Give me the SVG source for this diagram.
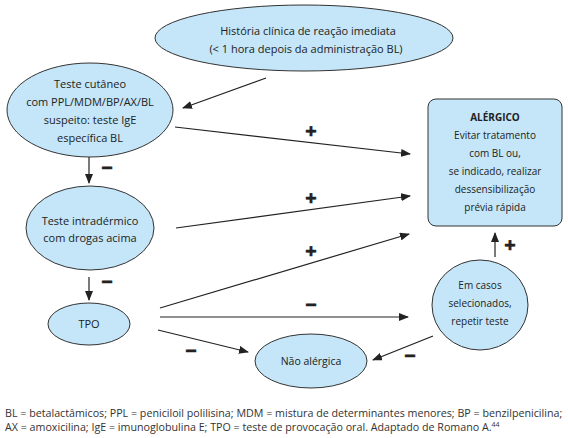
<svg xmlns="http://www.w3.org/2000/svg" width="568" height="438" viewBox="0 0 568 438">
<defs>
<marker id="ah" markerWidth="10" markerHeight="8" refX="9" refY="4" orient="auto" markerUnits="userSpaceOnUse">
<path d="M0,0 L10,4 L0,8 Z" fill="#222"/>
</marker>
<style>
.n{fill:#c4e6f8;stroke:#333;stroke-width:1}
.t{font-family:"Open Sans","Noto Sans",sans-serif;font-size:11px;fill:#222;text-anchor:middle}
.r{font-size:10px}
.m{font-size:10.5px}
.b{font-weight:bold}
.c line{stroke:#222;stroke-width:1.2;marker-end:url(#ah)}
.s{font-family:"Open Sans","Noto Sans",sans-serif;font-size:20px;font-weight:bold;fill:#222;stroke:#222;stroke-width:0.6;text-anchor:middle}
.f{font-family:"Open Sans","Noto Sans",sans-serif;font-size:10.7px;fill:#333}
</style>
</defs>
<rect width="568" height="438" fill="#fff"/>
<g class="c">
<line x1="266" y1="78" x2="183" y2="108"/>
<line x1="89" y1="157" x2="89" y2="183"/>
<line x1="175" y1="127" x2="410" y2="154"/>
<line x1="176" y1="228" x2="410" y2="196"/>
<line x1="89" y1="277" x2="89" y2="300"/>
<line x1="160" y1="308" x2="409" y2="234"/>
<line x1="160" y1="317" x2="408" y2="317"/>
<line x1="158" y1="330" x2="248" y2="352"/>
<line x1="433" y1="336" x2="373" y2="360"/>
<line x1="495" y1="257" x2="495" y2="233"/>
</g>
<g id="labels">
<text class="s" x="107" y="175">−</text>
<text class="s" x="311" y="138">+</text>
<text class="s" x="311" y="205">+</text>
<text class="s" x="107" y="289">−</text>
<text class="s" x="311" y="258">+</text>
<text class="s" x="311" y="312">−</text>
<text class="s" x="191" y="358">−</text>
<text class="s" x="410" y="363">−</text>
<text class="s" x="510" y="252">+</text>
</g>
<g id="historia">
<ellipse class="n" cx="304" cy="38" rx="149" ry="33"/>
<text class="t" x="308" y="35">História clínica de reação imediata</text>
<text class="t" x="306" y="53">(&lt; 1 hora depois da administração BL)</text>
</g>
<g id="cutaneo">
<ellipse class="n" cx="90" cy="110" rx="83" ry="47"/>
<text class="t" x="90" y="88">Teste cutâneo</text>
<text class="t" x="90" y="106">com PPL/MDM/BP/AX/BL</text>
<text class="t" x="90" y="124">suspeito: teste IgE</text>
<text class="t" x="90" y="142">específica BL</text>
</g>
<g id="intradermico">
<ellipse class="n" cx="90" cy="228" rx="64" ry="42"/>
<text class="t" x="90" y="225">Teste intradérmico</text>
<text class="t" x="90" y="242">com drogas acima</text>
</g>
<g id="tpo">
<ellipse class="n" cx="89" cy="324" rx="41" ry="21"/>
<text class="t" x="89" y="328">TPO</text>
</g>
<g id="naoalergica">
<ellipse class="n" cx="311" cy="361" rx="56" ry="27"/>
<text class="t m" x="311" y="365">Não alérgica</text>
</g>
<g id="emcasos">
<ellipse class="n" cx="480" cy="305" rx="48" ry="45"/>
<text class="t r" x="480" y="289">Em casos</text>
<text class="t r" x="480" y="307">selecionados,</text>
<text class="t r" x="480" y="325">repetir teste</text>
</g>
<g id="alergico">
<rect class="n" x="428" y="99" width="134" height="127" rx="8"/>
<text class="t r b" x="495" y="121">ALÉRGICO</text>
<text class="t r" x="495" y="139">Evitar tratamento</text>
<text class="t r" x="495" y="157">com BL ou,</text>
<text class="t r" x="495" y="175">se indicado, realizar</text>
<text class="t r" x="495" y="193">dessensibilização</text>
<text class="t r" x="495" y="211">prévia rápida</text>
</g>
<g id="footnote">
<text class="f" x="5" y="417">BL = betalactâmicos; PPL = peniciloil polilisina; MDM = mistura de determinantes menores; BP = benzilpenicilina;</text>
<text class="f" x="5" y="431">AX = amoxicilina; IgE = imunoglobulina E; TPO = teste de provocação oral. Adaptado de Romano A.<tspan font-size="7" dy="-4">44</tspan></text>
</g>
</svg>
